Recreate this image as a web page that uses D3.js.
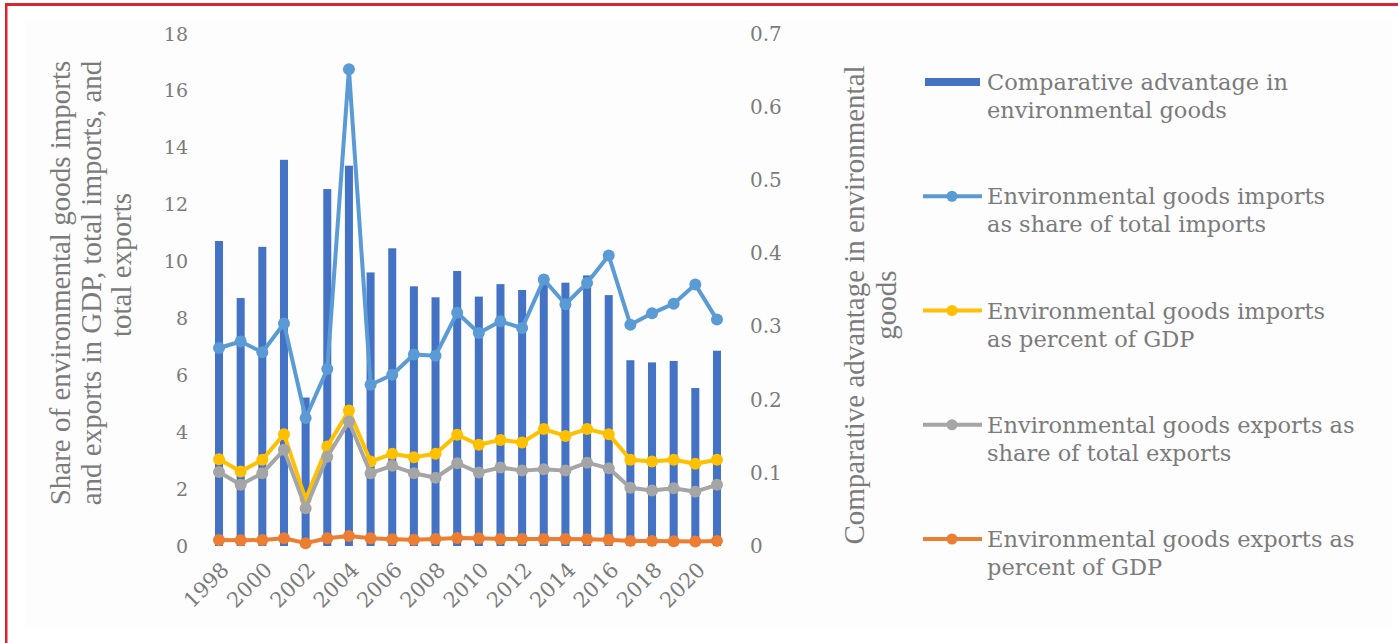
<!DOCTYPE html>
<html>
<head>
<meta charset="utf-8">
<script src="https://cdn.jsdelivr.net/npm/d3@7"></script>
<style>
  html, body { margin: 0; padding: 0; background: #ffffff; }
  svg { display: block; }
</style>
</head>
<body>
<svg id="chart" width="1398" height="643"></svg>
<script>
// Years on the category axis
const years = d3.range(1998, 2022).map(String);
const yearTickLabels = ["1998","2000","2002","2004","2006","2008","2010","2012","2014","2016","2018","2020"];

// Comparative advantage in environmental goods (right axis)
const comparativeAdvantage = [0.417,0.339,0.409,0.528,0.203,0.488,0.52,0.374,0.407,0.355,0.340,0.376,0.341,0.358,0.350,0.360,0.360,0.370,0.343,0.254,0.251,0.253,0.216,0.267];

// Environmental goods trade shares, percent (left axis)
const importsShareOfImports = [6.96,7.19,6.81,7.82,4.50,6.22,16.76,5.67,6.02,6.73,6.69,8.20,7.49,7.90,7.66,9.37,8.50,9.25,10.21,7.78,8.18,8.52,9.19,7.96];
const importsPctGDP = [3.05,2.62,3.03,3.93,1.64,3.50,4.76,2.97,3.24,3.12,3.24,3.91,3.56,3.73,3.64,4.11,3.87,4.11,3.93,3.03,2.97,3.03,2.89,3.03];
const exportsShareOfExports = [2.60,2.15,2.56,3.38,1.33,3.14,4.38,2.56,2.82,2.56,2.40,2.91,2.58,2.76,2.65,2.70,2.65,2.93,2.73,2.05,1.95,2.03,1.91,2.15];
const exportsPctGDP = [0.21,0.20,0.21,0.27,0.10,0.27,0.35,0.27,0.24,0.22,0.25,0.28,0.27,0.25,0.25,0.25,0.25,0.24,0.22,0.18,0.18,0.17,0.16,0.18];

// Axis ticks
const leftTicks = [0,2,4,6,8,10,12,14,16,18];
const rightTicks = [0,0.1,0.2,0.3,0.4,0.5,0.6,0.7];

const leftTitleLines = ["Share of environmental goods imports", "and exports in GDP, total imports, and", "total exports"];
const rightTitleLines = ["Comparative advantage in environmental", "goods"];

const barSeries = { name: ["Comparative advantage in", "environmental goods"], color: "#4472C4" };
const lineSeries = [
  { name: ["Environmental goods imports", "as share of total imports"], color: "#5B9BD5", values: importsShareOfImports },
  { name: ["Environmental goods imports", "as percent of GDP"], color: "#FFC000", values: importsPctGDP },
  { name: ["Environmental goods exports as", "share of total exports"], color: "#A5A5A5", values: exportsShareOfExports },
  { name: ["Environmental goods exports as", "percent of GDP"], color: "#ED7D31", values: exportsPctGDP }
];

const svg = d3.select("#chart");
const textColor = "#7b7b7b";
const tickFont = "'DejaVu Serif', Georgia, serif";
const titleFont = "'Liberation Serif', 'Times New Roman', serif";

// Frame
svg.append("rect").attr("x", 25).attr("y", 20).attr("width", 1367).attr("height", 608).attr("fill", "#fdfdfd");
svg.append("rect").attr("x", 5).attr("y", 3).attr("width", 2.5).attr("height", 640).attr("fill", "#d9232e");
svg.append("rect").attr("x", 5).attr("y", 3).attr("width", 1393).attr("height", 3).attr("fill", "#d9232e");

// Scales
const plotTop = 34, plotBottom = 546;
const x = d3.scaleBand().domain(years).range([208.2, 727.8]).paddingInner(0.63).paddingOuter(0.315);
const yLeft = d3.scaleLinear().domain([0, 18]).range([plotBottom, plotTop]);
const yRight = d3.scaleLinear().domain([0, 0.7]).range([plotBottom, plotTop]);
const cx = d => x(d) + x.bandwidth() / 2;

// Bars
svg.append("g").selectAll("rect")
  .data(years.map((y, i) => ({ year: y, v: comparativeAdvantage[i] })))
  .join("rect")
  .attr("x", d => x(d.year))
  .attr("width", x.bandwidth())
  .attr("y", d => yRight(d.v))
  .attr("height", d => yRight(0) - yRight(d.v))
  .attr("fill", barSeries.color);

// Lines with markers
const line = d3.line().x(d => cx(d.year)).y(d => yLeft(d.v));
lineSeries.forEach(s => {
  const pts = years.map((y, i) => ({ year: y, v: s.values[i] }));
  const g = svg.append("g");
  g.append("path").datum(pts).attr("d", line)
    .attr("fill", "none").attr("stroke", s.color).attr("stroke-width", 4).attr("stroke-linejoin", "round");
  g.selectAll("circle").data(pts).join("circle")
    .attr("cx", d => cx(d.year)).attr("cy", d => yLeft(d.v)).attr("r", 6)
    .attr("fill", s.color);
});

// Left axis
const leftAxis = d3.axisLeft(yLeft).tickValues(leftTicks).tickSize(0).tickPadding(0).tickFormat(d3.format("d"));
const gl = svg.append("g").attr("transform", "translate(188,0)").call(leftAxis);
gl.select(".domain").remove();
gl.selectAll("text").attr("fill", textColor).style("font-family", tickFont).style("font-size", "19px");

// Right axis
const rightAxis = d3.axisRight(yRight).tickValues(rightTicks).tickSize(0).tickPadding(0)
  .tickFormat(d => d === 0 ? "0" : d3.format(".1f")(d));
const gr = svg.append("g").attr("transform", "translate(750,0)").call(rightAxis);
gr.select(".domain").remove();
gr.selectAll("text").attr("fill", textColor).style("font-family", tickFont).style("font-size", "20px");

// Category axis
const xAxis = d3.axisBottom(x).tickValues(yearTickLabels).tickSize(0).tickPadding(0);
const gx = svg.append("g").attr("transform", "translate(0,566)").call(xAxis);
gx.select(".domain").remove();
gx.selectAll("text")
  .attr("fill", textColor).style("font-family", tickFont).style("font-size", "21px")
  .attr("text-anchor", "end").attr("dy", "0.35em")
  .attr("transform", "translate(6,0) rotate(-45)");

// Axis titles
const lt = svg.append("text").attr("transform", "translate(0,283) rotate(-90)")
  .attr("text-anchor", "middle").attr("fill", textColor)
  .style("font-family", titleFont).style("font-size", "29px");
leftTitleLines.forEach((t, i) => lt.append("tspan").attr("x", i === 2 ? 18 : 0).attr("y", 70 + i * 30.5).text(t));

const rt = svg.append("text").attr("transform", "translate(0,305) rotate(-90)")
  .attr("text-anchor", "middle").attr("fill", textColor)
  .style("font-family", titleFont).style("font-size", "29px");
rightTitleLines.forEach((t, i) => rt.append("tspan").attr("x", 0).attr("y", 864 + i * 32).text(t));

// Legend
const legend = svg.append("g");
const legendEntries = [barSeries, ...lineSeries];
legendEntries.forEach((s, i) => {
  const y0 = 82 + i * 114.25;
  const g = legend.append("g").attr("transform", `translate(0,${y0})`);
  if (i === 0) {
    g.append("rect").attr("x", 925).attr("y", -4).attr("width", 55).attr("height", 8).attr("fill", s.color);
  } else {
    g.append("line").attr("x1", 923).attr("x2", 982).attr("y1", 0).attr("y2", 0)
      .attr("stroke", s.color).attr("stroke-width", 4);
    g.append("circle").attr("cx", 952).attr("cy", 0).attr("r", 5.5).attr("fill", s.color);
  }
  const t = g.append("text").attr("fill", textColor)
    .style("font-family", tickFont).style("font-size", "22.5px");
  s.name.forEach((n, j) => t.append("tspan").attr("x", 987).attr("y", 8 + j * 28).text(n));
});
</script>
</body>
</html>
